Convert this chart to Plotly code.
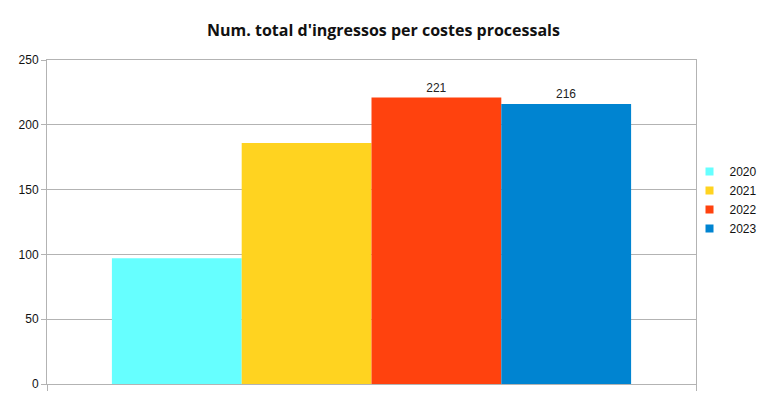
import plotly.graph_objects as go

years = ["2020", "2021", "2022", "2023"]
values = [97, 186, 221, 216]
show_label = [False, False, True, True]
colors = ["#66ffff", "#ffd320", "#ff420e", "#0084d1"]
category = [""]
y_ticks = [0, 50, 100, 150, 200, 250]

fig = go.Figure()
for yr, v, lab, c in zip(years, values, show_label, colors):
    fig.add_trace(go.Bar(
        x=category, y=[v], name=yr, showlegend=False,
        marker=dict(color=c, line=dict(width=0)),
        text=[str(v)] if lab else None,
        textposition="outside" if lab else "none",
        textfont=dict(family="Liberation Sans", size=12, color="#222222"),
        cliponaxis=False,
    ))
# legend entries with small square swatches
for yr, c in zip(years, colors):
    fig.add_trace(go.Scatter(
        x=[None], y=[None], name=yr, mode="markers",
        marker=dict(symbol="square", size=8, color=c, line=dict(width=0)),
        showlegend=True,
    ))

grid = "#b3b3b3"
fig.update_layout(
    width=767, height=399,
    margin=dict(l=47, r=71, t=60, b=15, autoexpand=False),
    paper_bgcolor="white", plot_bgcolor="white",
    barmode="group", bargap=0.2, bargroupgap=0,
    title=dict(text="<b>Num. total d'ingressos per costes processals</b>",
               x=0.5, xanchor="center", xref="container", y=0.925, yanchor="middle",
               font=dict(family="Open Sans", size=16, color="#111111")),
    font=dict(family="Liberation Sans", size=12, color="#111111"),
    showlegend=True,
    legend=dict(x=0.99, xanchor="left", y=0.568, yanchor="middle",
                font=dict(family="Liberation Sans", size=12, color="#111111"),
                bgcolor="rgba(0,0,0,0)", tracegroupgap=0),
)
fig.update_xaxes(
    type="category", range=[-0.5, 0.5], showgrid=False, automargin=False,
    showline=True, linecolor=grid, linewidth=1, mirror=True,
    ticks="outside", tickson="boundaries", ticklen=6, tickcolor=grid,
    showticklabels=False, zeroline=False,
)
fig.update_yaxes(
    range=[0, 250], tickvals=y_ticks, showgrid=True, gridcolor=grid, gridwidth=1,
    showline=True, linecolor=grid, linewidth=1, mirror=True, automargin=False,
    ticks="outside", ticklen=5, tickcolor=grid, zeroline=False,
    tickfont=dict(family="Liberation Sans", size=12, color="#111111"),
)

fig.write_html("out.html", config={"displayModeBar": False},
               post_script="document.body.style.margin='0';")
